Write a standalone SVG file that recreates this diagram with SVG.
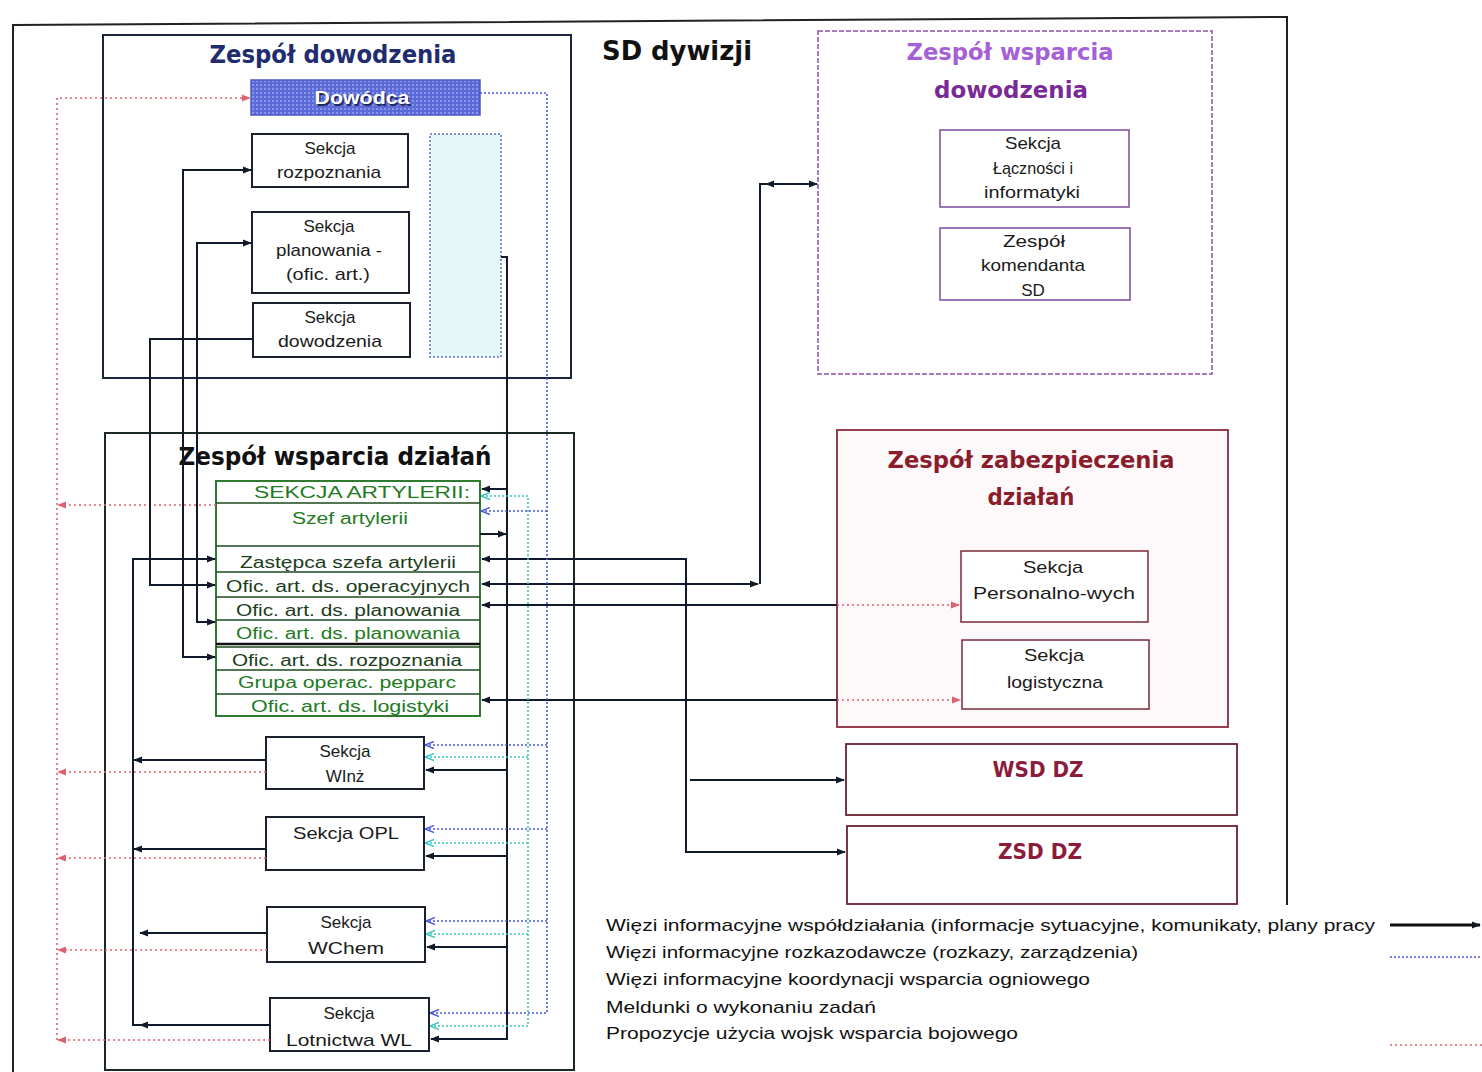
<svg xmlns="http://www.w3.org/2000/svg" width="1482" height="1072" viewBox="0 0 1482 1072">
<style>
.bx{fill:#fff;stroke:#1a2030;stroke-width:2}
.t{font-family:"Liberation Sans",Arial,sans-serif;font-size:17px;fill:#1a1a1a;text-anchor:middle}
.tr{font-family:"Liberation Sans",Arial,sans-serif;font-size:16px;fill:#237a23;text-anchor:middle}
.trd{font-family:"Liberation Sans",Arial,sans-serif;font-size:16px;fill:#1b3d1b;text-anchor:middle}
.ttl{font-family:"DejaVu Sans","Liberation Sans",sans-serif;font-weight:bold;text-anchor:middle}
.lg{font-family:"Liberation Sans",Arial,sans-serif;font-size:17px;fill:#111}
.dw{font-family:"Liberation Sans",Arial,sans-serif;font-weight:bold;font-size:19px;text-anchor:middle}
.k{fill:none;stroke:#111a2a;stroke-width:2}
.b{fill:none;stroke:#4a5ad8;stroke-width:1.6;stroke-dasharray:2 2}
.c{fill:none;stroke:#3cc4c0;stroke-width:1.6;stroke-dasharray:2 2}
.r{fill:none;stroke:#e06070;stroke-width:1.6;stroke-dasharray:2 3}
</style>
<defs>
<marker id="ak" viewBox="0 0 10 10" refX="9" refY="5" markerWidth="9" markerHeight="9" markerUnits="userSpaceOnUse" orient="auto-start-reverse"><path d="M0,1 L10,5 L0,9 z" fill="#111a2a"/></marker>
<marker id="ab" viewBox="0 0 10 10" refX="9" refY="5" markerWidth="9" markerHeight="9" markerUnits="userSpaceOnUse" orient="auto-start-reverse"><path d="M0,1 L10,5 L0,9" fill="none" stroke="#4a5ad8" stroke-width="1.5"/></marker>
<marker id="ac" viewBox="0 0 10 10" refX="9" refY="5" markerWidth="9" markerHeight="9" markerUnits="userSpaceOnUse" orient="auto-start-reverse"><path d="M0,1 L10,5 L0,9" fill="none" stroke="#3cc4c0" stroke-width="1.5"/></marker>
<marker id="ar" viewBox="0 0 10 10" refX="9" refY="5" markerWidth="9" markerHeight="9" markerUnits="userSpaceOnUse" orient="auto-start-reverse"><path d="M0,1 L10,5 L0,9 z" fill="#e06070"/></marker>
<pattern id="dots" width="4" height="4" patternUnits="userSpaceOnUse"><rect width="4" height="4" fill="#5c6ad8"/><rect width="2" height="2" fill="#8a96ee"/></pattern>
</defs>
<rect width="1482" height="1072" fill="#fff"/>

<g id="frame">
<path d="M13,1072 V25 L1287,17 V905" fill="none" stroke="#222" stroke-width="2"/>
<text x="602" y="60" class="ttl" style="text-anchor:start;font-size:27px" fill="#111" textLength="150" lengthAdjust="spacingAndGlyphs">SD dywizji</text>
</g>

<g id="zespol-dowodzenia">
<rect x="103" y="35" width="468" height="343" fill="#fff" stroke="#1c2440" stroke-width="2"/>
<text x="333" y="63" class="ttl" style="font-size:24px" fill="#1f2d6e" textLength="247" lengthAdjust="spacingAndGlyphs">Zespół dowodzenia</text>
</g>
<g id="dowodca">
<rect x="251" y="80" width="229" height="35" fill="url(#dots)" stroke="#4a58c8" stroke-width="1.5"/>
<text x="363.5" y="105.5" class="dw" fill="#23285a" textLength="95" lengthAdjust="spacingAndGlyphs">Dowódca</text>
<text x="362" y="104" class="dw" fill="#fff" textLength="95" lengthAdjust="spacingAndGlyphs">Dowódca</text>
</g>
<g id="sekcja-rozpoznania">
<rect x="252" y="134" width="156" height="53" class="bx"/>
<text x="330" y="154" class="t">Sekcja</text>
<text x="329" y="178" class="t" textLength="104" lengthAdjust="spacingAndGlyphs">rozpoznania</text>
</g>
<g id="sekcja-planowania">
<rect x="252" y="212" width="157" height="81" class="bx"/>
<text x="329" y="232" class="t">Sekcja</text>
<text x="329" y="256" class="t" textLength="106" lengthAdjust="spacingAndGlyphs">planowania -</text>
<text x="328" y="280" class="t" textLength="84" lengthAdjust="spacingAndGlyphs">(ofic. art.)</text>
</g>
<g id="sekcja-dowodzenia">
<rect x="253" y="303" width="157" height="54" class="bx"/>
<text x="330" y="323" class="t">Sekcja</text>
<text x="330" y="347" class="t" textLength="104" lengthAdjust="spacingAndGlyphs">dowodzenia</text>
</g>
<g id="pole-niebieskie">
<rect x="430" y="134" width="71" height="223" fill="#e6f7f9" stroke="#5a6ad8" stroke-width="1.5" stroke-dasharray="2 2"/>
</g>

<g id="zespol-wsparcia-dowodzenia">
<rect x="818" y="31" width="394" height="343" fill="#fff" stroke="#8a50a8" stroke-width="1.5" stroke-dasharray="5 2"/>
<text x="1010" y="60" class="ttl" style="font-size:23px" fill="#a560d8" textLength="207" lengthAdjust="spacingAndGlyphs">Zespół wsparcia</text>
<text x="1011" y="98" class="ttl" style="font-size:23px" fill="#7a2a96" textLength="154" lengthAdjust="spacingAndGlyphs">dowodzenia</text>
</g>
<g id="sekcja-lacznosci">
<rect x="940" y="130" width="189" height="77" fill="#fff" stroke="#7a4a9a" stroke-width="1.5"/>
<text x="1033" y="149" class="t" textLength="56" lengthAdjust="spacingAndGlyphs">Sekcja</text>
<text x="1033" y="174" class="t" textLength="80" lengthAdjust="spacingAndGlyphs">Łączności i</text>
<text x="1032" y="198" class="t" textLength="96" lengthAdjust="spacingAndGlyphs">informatyki</text>
</g>
<g id="zespol-komendanta">
<rect x="940" y="228" width="190" height="72" fill="#fff" stroke="#7a4a9a" stroke-width="1.5"/>
<text x="1034" y="247" class="t" textLength="62" lengthAdjust="spacingAndGlyphs">Zespół</text>
<text x="1033" y="271" class="t" textLength="104" lengthAdjust="spacingAndGlyphs">komendanta</text>
<text x="1033" y="296" class="t">SD</text>
</g>

<g id="zespol-zabezpieczenia">
<rect x="837" y="430" width="391" height="297" fill="#fdf8f9" stroke="#8b2a3a" stroke-width="1.8"/>
<text x="1031" y="468" class="ttl" style="font-size:23px" fill="#8b1c2c" textLength="287" lengthAdjust="spacingAndGlyphs">Zespół zabezpieczenia</text>
<text x="1031" y="505" class="ttl" style="font-size:23px" fill="#8b1c2c" textLength="87" lengthAdjust="spacingAndGlyphs">działań</text>
</g>
<g id="sekcja-personalna">
<rect x="961" y="551" width="187" height="71" fill="#fff" stroke="#7a2a3a" stroke-width="1.5"/>
<text x="1053" y="573" class="t" textLength="60" lengthAdjust="spacingAndGlyphs">Sekcja</text>
<text x="1054" y="599" class="t" textLength="162" lengthAdjust="spacingAndGlyphs">Personalno-wych</text>
</g>
<g id="sekcja-logistyczna">
<rect x="962" y="640" width="187" height="69" fill="#fff" stroke="#7a2a3a" stroke-width="1.5"/>
<text x="1054" y="661" class="t" textLength="60" lengthAdjust="spacingAndGlyphs">Sekcja</text>
<text x="1055" y="688" class="t" textLength="96" lengthAdjust="spacingAndGlyphs">logistyczna</text>
</g>
<g id="wsd-dz">
<rect x="846" y="744" width="391" height="71" fill="#fff" stroke="#6a2030" stroke-width="1.8"/>
<text x="1038" y="777" class="ttl" style="font-size:22px" fill="#8b1c3c" textLength="91" lengthAdjust="spacingAndGlyphs">WSD DZ</text>
</g>
<g id="zsd-dz">
<rect x="847" y="826" width="390" height="78" fill="#fff" stroke="#6a2030" stroke-width="1.8"/>
<text x="1040" y="859" class="ttl" style="font-size:22px" fill="#8b1c3c" textLength="84" lengthAdjust="spacingAndGlyphs">ZSD DZ</text>
</g>

<g id="zespol-wsparcia-dzialan">
<rect x="105" y="433" width="469" height="637" fill="none" stroke="#1a2a22" stroke-width="2"/>
<text x="335" y="465" class="ttl" style="font-size:24px" fill="#111" textLength="313" lengthAdjust="spacingAndGlyphs">Zespół wsparcia działań</text>
</g>
<g id="sekcja-artylerii">
<rect x="216" y="481" width="264" height="235" fill="#fff" stroke="#2f7a2f" stroke-width="2"/>
<path d="M216,503 H480 M216,546 H480 M216,572 H480 M216,597 H480 M216,620 H480 M216,647 H480 M216,670 H480 M216,694 H480" stroke="#1e4a1e" stroke-width="1.6" fill="none"/>
<path d="M216,644 H480" stroke="#111" stroke-width="2.5"/>
<text x="362" y="498" class="tr" textLength="216" lengthAdjust="spacingAndGlyphs">SEKCJA ARTYLERII:</text>
<text x="350" y="524" class="tr" textLength="116" lengthAdjust="spacingAndGlyphs">Szef artylerii</text>
<text x="348" y="568" class="trd" textLength="216" lengthAdjust="spacingAndGlyphs">Zastępca szefa artylerii</text>
<text x="348" y="592" class="trd" textLength="244" lengthAdjust="spacingAndGlyphs">Ofic. art. ds. operacyjnych</text>
<text x="348" y="616" class="trd" textLength="224" lengthAdjust="spacingAndGlyphs">Ofic. art. ds. planowania</text>
<text x="348" y="639" class="tr" textLength="224" lengthAdjust="spacingAndGlyphs">Ofic. art. ds. planowania</text>
<text x="347" y="666" class="trd" textLength="230" lengthAdjust="spacingAndGlyphs">Ofic. art. ds. rozpoznania</text>
<text x="347" y="688" class="tr" textLength="218" lengthAdjust="spacingAndGlyphs">Grupa operac. pepparc</text>
<text x="350" y="712" class="tr" textLength="198" lengthAdjust="spacingAndGlyphs">Ofic. art. ds. logistyki</text>
</g>
<g id="sekcja-winz">
<rect x="266" y="737" width="158" height="52" class="bx"/>
<text x="345" y="757" class="t">Sekcja</text>
<text x="345" y="782" class="t">WInż</text>
</g>
<g id="sekcja-opl">
<rect x="266" y="817" width="158" height="53" class="bx"/>
<text x="346" y="839" class="t" textLength="106" lengthAdjust="spacingAndGlyphs">Sekcja OPL</text>
</g>
<g id="sekcja-wchem">
<rect x="267" y="907" width="158" height="55" class="bx"/>
<text x="346" y="928" class="t">Sekcja</text>
<text x="346" y="954" class="t" textLength="76" lengthAdjust="spacingAndGlyphs">WChem</text>
</g>
<g id="sekcja-lotnictwa">
<rect x="270" y="998" width="159" height="53" class="bx"/>
<text x="349" y="1019" class="t">Sekcja</text>
<text x="349" y="1046" class="t" textLength="126" lengthAdjust="spacingAndGlyphs">Lotnictwa WL</text>
</g>

<g id="connectors">
<path class="r" d="M57,1040 V98 H250" marker-end="url(#ar)"/>
<path class="r" d="M216,505 H58" marker-end="url(#ar)"/>
<path class="r" d="M266,772 H58" marker-end="url(#ar)"/>
<path class="r" d="M266,858 H58" marker-end="url(#ar)"/>
<path class="r" d="M267,950 H58" marker-end="url(#ar)"/>
<path class="r" d="M270,1040 H58" marker-end="url(#ar)"/>
<path class="k" d="M251,170 H183 V657 H215" marker-start="url(#ak)" marker-end="url(#ak)"/>
<path class="k" d="M251,243 H197 V622 H215" marker-start="url(#ak)" marker-end="url(#ak)"/>
<path class="k" d="M253,339 H150 V585 H215" marker-end="url(#ak)"/>
<path class="k" d="M215,559 H133 V1025 H270" marker-start="url(#ak)"/>
<path class="k" d="M266,760 H134" marker-end="url(#ak)"/>
<path class="k" d="M266,849 H134" marker-end="url(#ak)"/>
<path class="k" d="M267,933 H140" marker-end="url(#ak)"/>
<path class="k" d="M150,1025 H140" marker-end="url(#ak)"/>
<path class="k" d="M501,257 H507 V1039 H431" marker-end="url(#ak)"/>
<path class="k" d="M507,489 H482" marker-end="url(#ak)"/>
<path class="k" d="M480,534 H506" marker-end="url(#ak)"/>
<path class="k" d="M507,770 H426" marker-end="url(#ak)"/>
<path class="k" d="M507,856 H426" marker-end="url(#ak)"/>
<path class="k" d="M507,947 H427" marker-end="url(#ak)"/>
<path class="k" d="M482,559 H686 V852 H845" marker-start="url(#ak)" marker-end="url(#ak)"/>
<path class="k" d="M690,780 H844" marker-end="url(#ak)"/>
<path class="k" d="M482,584 H758" marker-start="url(#ak)" marker-end="url(#ak)"/>
<path class="k" d="M760,584 V184 H817" marker-end="url(#ak)"/>
<path class="k" d="M790,184 H766" marker-end="url(#ak)"/>
<path class="k" d="M482,605 H837" marker-start="url(#ak)"/>
<path class="r" d="M837,605 H959" marker-end="url(#ar)"/>
<path class="k" d="M482,700 H837" marker-start="url(#ak)"/>
<path class="r" d="M837,700 H960" marker-end="url(#ar)"/>
<path class="b" d="M480,93 H547 V1013 H431" marker-end="url(#ab)"/>
<path class="b" d="M547,511 H482" marker-end="url(#ab)"/>
<path class="b" d="M547,745 H426" marker-end="url(#ab)"/>
<path class="b" d="M547,829 H426" marker-end="url(#ab)"/>
<path class="b" d="M547,921 H427" marker-end="url(#ab)"/>
<path class="c" d="M482,496 H528 V1026 H431" marker-start="url(#ac)" marker-end="url(#ac)"/>
<path class="c" d="M528,757 H426" marker-end="url(#ac)"/>
<path class="c" d="M528,843 H426" marker-end="url(#ac)"/>
<path class="c" d="M528,934 H427" marker-end="url(#ac)"/>
</g>

<g id="legenda">
<text x="606" y="931" class="lg" textLength="769" lengthAdjust="spacingAndGlyphs">Więzi informacyjne współdziałania (informacje sytuacyjne, komunikaty, plany pracy</text>
<text x="606" y="958" class="lg" textLength="532" lengthAdjust="spacingAndGlyphs">Więzi informacyjne rozkazodawcze (rozkazy, zarządzenia)</text>
<text x="606" y="985" class="lg" textLength="484" lengthAdjust="spacingAndGlyphs">Więzi informacyjne koordynacji wsparcia ogniowego</text>
<text x="606" y="1013" class="lg" textLength="270" lengthAdjust="spacingAndGlyphs">Meldunki o wykonaniu zadań</text>
<text x="606" y="1039" class="lg" textLength="412" lengthAdjust="spacingAndGlyphs">Propozycje użycia wojsk wsparcia bojowego</text>
<path d="M1390,925 H1480" stroke="#111" stroke-width="3" marker-end="url(#ak)"/>
<path class="b" d="M1390,957 H1482"/>
<path class="r" d="M1390,1045 H1482"/>
</g>
</svg>
